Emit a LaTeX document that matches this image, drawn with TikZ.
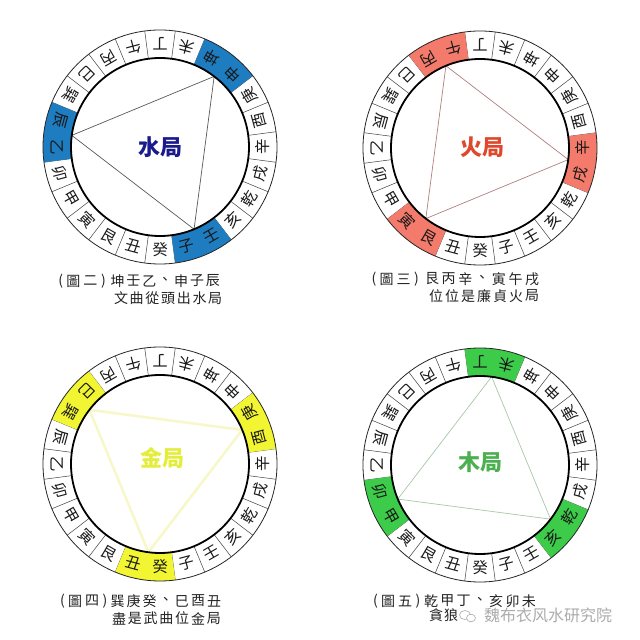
\documentclass[tikz,border=0pt]{standalone}
\usepackage{fontspec}
\newfontfamily\cjk{Noto Sans CJK TC}
\newfontfamily\cjksc{Noto Sans CJK SC}
\definecolor{wblue}{HTML}{1E7CC0}
\definecolor{wred}{HTML}{F47B6B}
\definecolor{wyel}{HTML}{F2F531}
\definecolor{wgreen}{HTML}{3DCC4A}
\definecolor{labblue}{HTML}{1A1A8C}
\definecolor{labred}{HTML}{E0482E}
\definecolor{labyel}{HTML}{E4EE3A}
\definecolor{labgreen}{HTML}{4CB050}
\definecolor{capcol}{HTML}{222222}
\tikzset{
  divider/.style={draw=black!75,line width=0.5pt},
  outerring/.style={draw=black!85,line width=0.8pt},
  innerring/.style={draw=black,line width=1.8pt},
  ringtxt/.style={font=\cjk\fontsize{15.5}{15.5}\selectfont,inner sep=0pt,text=black!90},
  labtxt/.style={font=\cjk\bfseries\fontsize{22}{22}\selectfont,inner sep=0pt},
  captxt/.style={font=\cjk\fontsize{14}{14}\selectfont,inner sep=0pt,text=capcol},
  tri1/.style={draw=black!65,line width=0.7pt},
  tri2/.style={draw={rgb,255:red,176;green,128;blue,128},line width=0.7pt},
  tri3/.style={draw={rgb,255:red,247;green,247;blue,200},line width=2.5pt,line join=round},
  tri4/.style={draw={rgb,255:red,168;green,200;blue,168},line width=0.7pt}
}
\newcommand\mywheel[8]{%
\begin{scope}[shift={#2}]
  \foreach \m [count=\k] in {#4}{\coordinate (#1v\k) at (\m:89);}
  \foreach \j in {0,...,23}{\draw[divider] ({97.5-15*\j}:89) -- ({97.5-15*\j}:117);}
  \foreach \m in {#4}{\fill[#3] ({\m-15}:88.5) arc[start angle={\m-15},end angle={\m+15},radius=88.5] -- ({\m+15}:117) arc[start angle={\m+15},end angle={\m-15},radius=117] -- cycle;}
  \draw[#5] (#1v1) -- (#1v2) -- (#1v3) -- cycle;
  \draw[outerring] (0,0) circle[radius=117];
  \draw[innerring] (0,0) circle[radius=89];
  \foreach \ch [count=\i from 0] in {丁,未,坤,申,庚,酉,辛,戌,乾,亥,壬,子,癸,丑,艮,寅,甲,卯,乙,辰,巽,巳,丙,午}{%
    \node[ringtxt,rotate={180-15*\i}] (#1t\i) at ({90-15*\i}:103) {\ch};}
  \node[labtxt,text=#7] (#1lab) at #8 {#6};
\end{scope}}
\newcommand\capline[5]{\foreach \c [count=\k] in {#5}{\node[captxt] (#1\k) at ({#2+(\k-1)*#3},#4) {\c};}}
\newcommand\capprefix[4]{%
  \node[captxt] (#1a) at (#2,#3) {(};
  \node[captxt] (#1b) at ({#2+12.6},#3) {圖};
  \node[captxt] (#1c) at ({#2+29.5},#3) {#4};
  \node[captxt] (#1d) at ({#2+42.6},#3) {)};}
\begin{document}
\begin{tikzpicture}[x=1pt,y=1pt]
\fill[white] (0,0) rectangle (640,640);
\useasboundingbox (0,0) rectangle (640,640);
% wheels
\mywheel{wa}{(160,493)}{wblue}{52.5,-67.5,172.5}{tri1}{水局}{labblue}{(0,0)}
\mywheel{wb}{(480,492)}{wred}{-127.5,112.5,-7.5}{tri2}{火局}{labred}{(2,1)}
\mywheel{wc}{(160,176)}{wyel}{142.5,22.5,-97.5}{tri3}{金局}{labyel}{(2,6)}
\mywheel{wd}{(480,175)}{wgreen}{-37.5,-157.5,82.5}{tri4}{木局}{labgreen}{(0,3)}
% captions
\capprefix{pa}{60.8}{359}{二}
\capline{ca}{117.5}{15.9}{359}{坤,壬,乙,、,申,子,辰}
\capline{da}{121}{15.7}{341.5}{文,曲,從,頭,出,水,局}
\capprefix{pb}{374}{361}{三}
\capline{cb}{432}{16.7}{361}{艮,丙,辛,、,寅,午,戌}
\capline{db}{436}{16}{344}{位,位,是,廉,貞,火,局}
\capprefix{pc}{62.5}{39}{四}
\capline{cc}{117.5}{16.1}{39}{巽,庚,癸,、,巳,酉,丑}
\capline{dc}{119}{15.8}{21.5}{盡,是,武,曲,位,金,局}
\capprefix{pd}{375.5}{39}{五}
\capline{cd}{431}{16.3}{39}{乾,甲,丁,、,亥,卯,未}
\capline{dd}{436}{15}{25}{貪,狼}
% watermark
\draw[gray!70,line width=0.6pt] (465,25) ellipse[x radius=5.5,y radius=4.5];
\draw[gray!70,line width=0.6pt,fill=white] (471,22) ellipse[x radius=4.5,y radius=3.8];
\node[font=\cjksc\fontsize{16}{16}\selectfont,text=gray!65,inner sep=0pt] (wm) at (548,24.5) {魏布衣风水研究院};
\end{tikzpicture}
\end{document}
